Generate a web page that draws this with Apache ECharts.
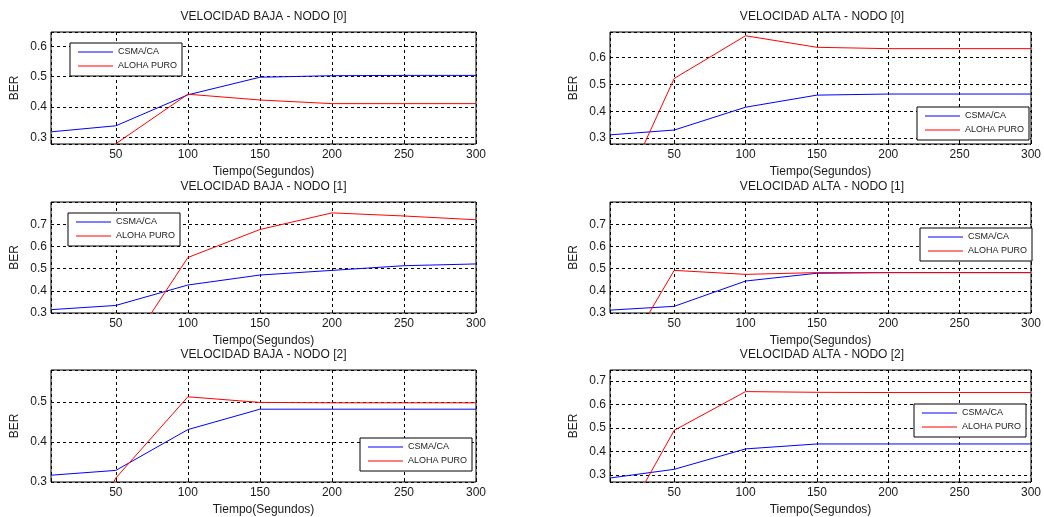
<!DOCTYPE html>
<html>
<head>
<meta charset="utf-8">
<script src="https://cdn.jsdelivr.net/npm/echarts@6/dist/echarts.min.js"></script>
<style>
  html, body { margin: 0; background: #fff; }
  #chart { width: 1044px; height: 517px; }
</style>
</head>
<body>
<div id="chart"></div>
<script>
// tiempo (segundos)
const tiempo = [5, 50, 100, 150, 200, 250, 300]

// BER por nodo
const bajaCsma0 = [0.318, 0.338, 0.440, 0.498, 0.503, 0.504, 0.504]
const bajaAloha0 = [0, 0.279, 0.442, 0.423, 0.411, 0.411, 0.411]
const altaCsma0 = [0.312, 0.330, 0.415, 0.460, 0.464, 0.464, 0.464]
const altaAloha0 = [0, 0.522, 0.681, 0.638, 0.633, 0.633, 0.633]

const bajaCsma1 = [0.315, 0.334, 0.426, 0.471, 0.492, 0.513, 0.521]
const bajaAloha1 = [0, 0.056, 0.550, 0.676, 0.751, 0.737, 0.720]
const altaCsma1 = [0.313, 0.330, 0.444, 0.479, 0.482, 0.482, 0.482]
const altaAloha1 = [0, 0.492, 0.474, 0.482, 0.482, 0.482, 0.482]

const bajaCsma2 = [0.317, 0.329, 0.431, 0.482, 0.482, 0.482, 0.482]
const bajaAloha2 = [0, 0.310, 0.513, 0.499, 0.498, 0.498, 0.498]
const altaCsma2 = [0.287, 0.324, 0.411, 0.432, 0.432, 0.432, 0.432]
const altaAloha2 = [0, 0.490, 0.655, 0.652, 0.651, 0.651, 0.651]

const nombres = ['CSMA/CA', 'ALOHA PURO']
const colores = ['#0000ff', '#ff0000']
const titulos = [
  'VELOCIDAD BAJA - NODO [0]', 'VELOCIDAD ALTA - NODO [0]',
  'VELOCIDAD BAJA - NODO [1]', 'VELOCIDAD ALTA - NODO [1]',
  'VELOCIDAD BAJA - NODO [2]', 'VELOCIDAD ALTA - NODO [2]',
]
const yRanges = [[0.278, 0.647], [0.278, 0.695], [0.3, 0.8], [0.3, 0.8], [0.3, 0.58], [0.27, 0.747]]

const panels = [
  { csma: bajaCsma0, aloha: bajaAloha0, legend: [70, 43] },
  { csma: altaCsma0, aloha: altaAloha0, legend: [917, 107] },
  { csma: bajaCsma1, aloha: bajaAloha1, legend: [68, 213] },
  { csma: altaCsma1, aloha: altaAloha1, legend: [920, 228] },
  { csma: bajaCsma2, aloha: bajaAloha2, legend: [360, 438] },
  { csma: altaCsma2, aloha: altaAloha2, legend: [914, 404] },
]

const cols = [{ left: 51, width: 425 }, { left: 610, width: 424 }]
const rows = [{ top: 32, height: 112 }, { top: 202, height: 111 }, { top: 370, height: 112 }]

const font = 'Liberation Sans, Arial, sans-serif'
const ink = '#1a1a1a'
const dash = { color: '#000', width: 1, type: [3, 3] }

const isMultiple = (v, step) => Math.abs(v / step - Math.round(v / step)) < 1e-6

const option = { animation: false, backgroundColor: '#fff', title: [], grid: [], xAxis: [], yAxis: [], legend: [], series: [] }

panels.forEach((p, i) => {
  const col = cols[i % 2]
  const row = rows[Math.floor(i / 2)]

  option.title.push({
    text: titulos[i],
    left: col.left + col.width / 2,
    top: row.top - 21,
    textAlign: 'center',
    padding: 0,
    textStyle: { fontFamily: font, fontSize: 12, fontWeight: 'normal', color: ink },
  })

  option.grid.push({
    left: col.left, top: row.top, width: col.width, height: row.height,
    show: true, borderColor: '#000', borderWidth: 1, backgroundColor: '#fff',
  })

  option.xAxis.push({
    type: 'value', gridIndex: i, min: 5, max: 300, minInterval: 50, maxInterval: 50,
    name: 'Tiempo(Segundos)', nameLocation: 'middle', nameGap: 22,
    nameTextStyle: { fontFamily: font, fontSize: 12, color: ink },
    axisLine: { show: false },
    axisTick: { show: true, inside: true, length: 3, lineStyle: { color: '#000' } },
    axisLabel: {
      margin: 5, fontFamily: font, fontSize: 12, color: ink,
      formatter: v => (isMultiple(v, 50) ? String(v) : ''),
    },
    splitLine: { show: true, lineStyle: dash },
  })

  option.yAxis.push({
    type: 'value', gridIndex: i, min: yRanges[i][0], max: yRanges[i][1], minInterval: 0.1, maxInterval: 0.1,
    name: 'BER', nameLocation: 'middle', nameGap: 30,
    nameTextStyle: { fontFamily: font, fontSize: 12, color: ink },
    axisLine: { show: false },
    axisTick: { show: true, inside: true, length: 3, lineStyle: { color: '#000' } },
    axisLabel: {
      margin: 4, fontFamily: font, fontSize: 12, color: ink, showMaxLabel: false,
      formatter: v => (isMultiple(v, 0.1) ? v.toFixed(1) : ''),
    },
    splitLine: { show: true, lineStyle: dash },
  })

  // legend line drawn as a thin filled rect in each series colour
  option.legend.push({
    data: nombres.map((n, k) => ({ name: n, itemStyle: { color: colores[k], borderWidth: 0 } })),
    icon: 'rect',
    orient: 'vertical', left: p.legend[0], top: p.legend[1],
    itemWidth: 35, itemHeight: 1, itemGap: 4,
    padding: [4, 5, 5, 8], borderColor: '#000', borderWidth: 1, backgroundColor: '#fff',
    textStyle: { fontFamily: font, fontSize: 9, lineHeight: 10, color: ink },
    selectedMode: false,
  })

  const toPairs = arr => tiempo.map((t, k) => [t, arr[k]])
  option.series.push(
    { name: nombres[0], type: 'line', xAxisIndex: i, yAxisIndex: i, data: toPairs(p.csma),
      symbol: 'none', color: colores[0], lineStyle: { width: 1, color: colores[0] }, clip: true },
    { name: nombres[1], type: 'line', xAxisIndex: i, yAxisIndex: i, data: toPairs(p.aloha),
      symbol: 'none', color: colores[1], lineStyle: { width: 1, color: colores[1] }, clip: true },
  )
})

const chart = echarts.init(document.getElementById('chart'))
chart.setOption(option)
</script>
</body>
</html>
